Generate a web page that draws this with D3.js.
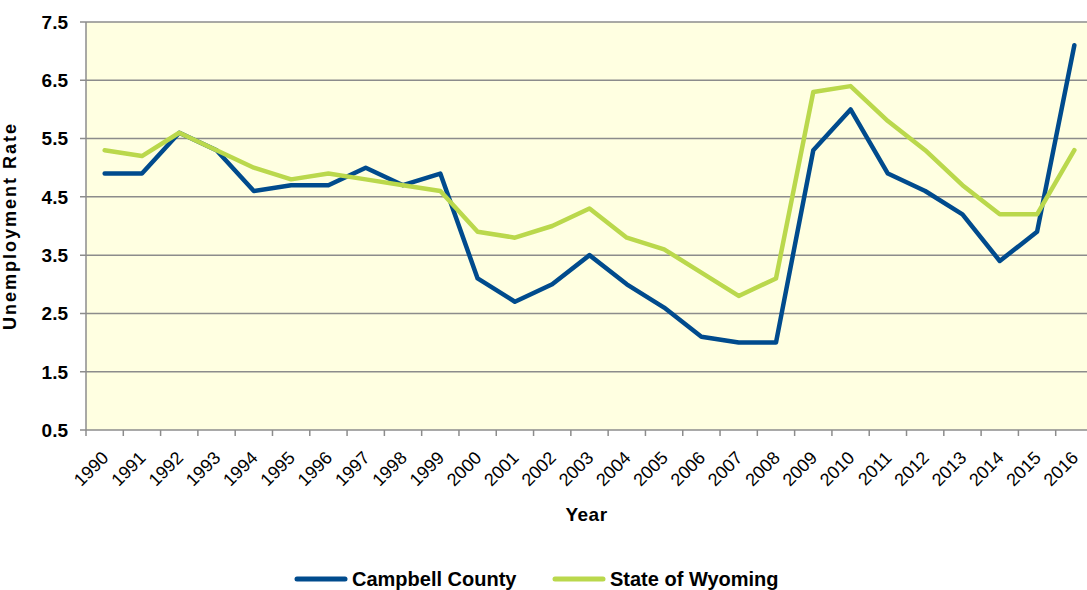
<!DOCTYPE html>
<html>
<head>
<meta charset="utf-8">
<script src="https://cdn.jsdelivr.net/npm/d3@7"></script>
<style>
    body { margin: 0; background: #fff; }
    text { font-family: "Liberation Sans", Arial, sans-serif; fill: #000; }
</style>
</head>
<body>
<div id="chart"></div>
<script>
// chart data
const years = [1990, 1991, 1992, 1993, 1994, 1995, 1996, 1997, 1998, 1999,
    2000, 2001, 2002, 2003, 2004, 2005, 2006, 2007, 2008, 2009,
    2010, 2011, 2012, 2013, 2014, 2015, 2016];
const campbellCounty = [4.9, 4.9, 5.6, 5.3, 4.6, 4.7, 4.7, 5.0, 4.7, 4.9,
    3.1, 2.7, 3.0, 3.5, 3.0, 2.6, 2.1, 2.0, 2.0, 5.3,
    6.0, 4.9, 4.6, 4.2, 3.4, 3.9, 7.1];
const stateOfWyoming = [5.3, 5.2, 5.6, 5.3, 5.0, 4.8, 4.9, 4.8, 4.7, 4.6,
    3.9, 3.8, 4.0, 4.3, 3.8, 3.6, 3.2, 2.8, 3.1, 6.3,
    6.4, 5.8, 5.3, 4.7, 4.2, 4.2, 5.3];
const yTicks = [0.5, 1.5, 2.5, 3.5, 4.5, 5.5, 6.5, 7.5];

const series = [
    { name: "Campbell County", values: campbellCounty, color: "#004b8d" },
    { name: "State of Wyoming", values: stateOfWyoming, color: "#bad84c" }
];

const width = 1087, height = 590;
const margin = { top: 22, right: -6, bottom: 160, left: 86 };
const innerW = width - margin.left - margin.right;
const innerH = height - margin.top - margin.bottom;

const svg = d3.select("#chart")
    .append("svg")
    .attr("width", width)
    .attr("height", height);

const g = svg.append("g")
    .attr("transform", `translate(${margin.left},${margin.top})`);

const x = d3.scaleBand().domain(years).range([0, innerW]);
const y = d3.scaleLinear().domain([0.5, 7.5]).range([innerH, 0]);

// plot background
g.append("rect")
    .attr("width", innerW)
    .attr("height", innerH)
    .attr("fill", "#ffffe1");

// gridlines
g.selectAll(".grid")
    .data(yTicks)
    .enter()
    .append("line")
    .attr("x1", -6)
    .attr("x2", innerW)
    .attr("y1", d => y(d))
    .attr("y2", d => y(d))
    .attr("stroke", "#8c8c8c")
    .attr("stroke-width", 1.5);

// y axis line
g.append("line")
    .attr("x1", 0).attr("x2", 0)
    .attr("y1", 0).attr("y2", innerH)
    .attr("stroke", "#8c8c8c")
    .attr("stroke-width", 1.5);

// y tick labels
g.selectAll(".ylab")
    .data(yTicks)
    .enter()
    .append("text")
    .attr("x", -18)
    .attr("y", d => y(d))
    .attr("dy", "0.36em")
    .attr("text-anchor", "end")
    .style("font-size", "19px")
    .style("font-weight", "bold")
    .text(d => d.toFixed(1));

// x tick marks at category boundaries
const bounds = years.map(d => x(d));
g.selectAll(".xtick")
    .data(bounds)
    .enter()
    .append("line")
    .attr("x1", d => d).attr("x2", d => d)
    .attr("y1", innerH).attr("y2", innerH + 6)
    .attr("stroke", "#8c8c8c")
    .attr("stroke-width", 1.5);

// x tick labels
g.selectAll(".xlab")
    .data(years)
    .enter()
    .append("text")
    .attr("transform", d => `translate(${x(d) + x.bandwidth() / 2 + 5},${innerH + 29}) rotate(-45)`)
    .attr("text-anchor", "end")
    .style("font-size", "18px")
    .text(d => d);

// axis titles
svg.append("text")
    .attr("x", margin.left + (width - 6 - margin.left) / 2 + 3)
    .attr("y", 521)
    .attr("text-anchor", "middle")
    .style("font-size", "19px")
    .style("font-weight", "bold")
    .style("letter-spacing", "0.5px")
    .text("Year");

svg.append("text")
    .attr("transform", `translate(16,${margin.top + innerH / 2}) rotate(-90)`)
    .attr("text-anchor", "middle")
    .style("font-size", "18px")
    .style("font-weight", "bold")
    .style("letter-spacing", "2px")
    .text("Unemployment Rate");

// lines
const line = d3.line()
    .x((d, i) => x(years[i]) + x.bandwidth() / 2)
    .y(d => y(d));

g.selectAll(".series")
    .data(series)
    .enter()
    .append("path")
    .attr("d", d => line(d.values))
    .attr("fill", "none")
    .attr("stroke", d => d.color)
    .attr("stroke-width", 4.5)
    .attr("stroke-linejoin", "round")
    .attr("stroke-linecap", "round");

// legend
const legendX = [297, 555];
const legend = svg.selectAll(".legend")
    .data(series)
    .enter()
    .append("g")
    .attr("transform", (d, i) => `translate(${legendX[i]},579)`);

legend.append("line")
    .attr("x1", 0).attr("x2", 48)
    .attr("stroke", d => d.color)
    .attr("stroke-width", 5)
    .attr("stroke-linecap", "round");

legend.append("text")
    .attr("x", 55)
    .attr("dy", "0.36em")
    .style("font-size", "20px")
    .style("font-weight", "bold")
    .text(d => d.name);
</script>
</body>
</html>
